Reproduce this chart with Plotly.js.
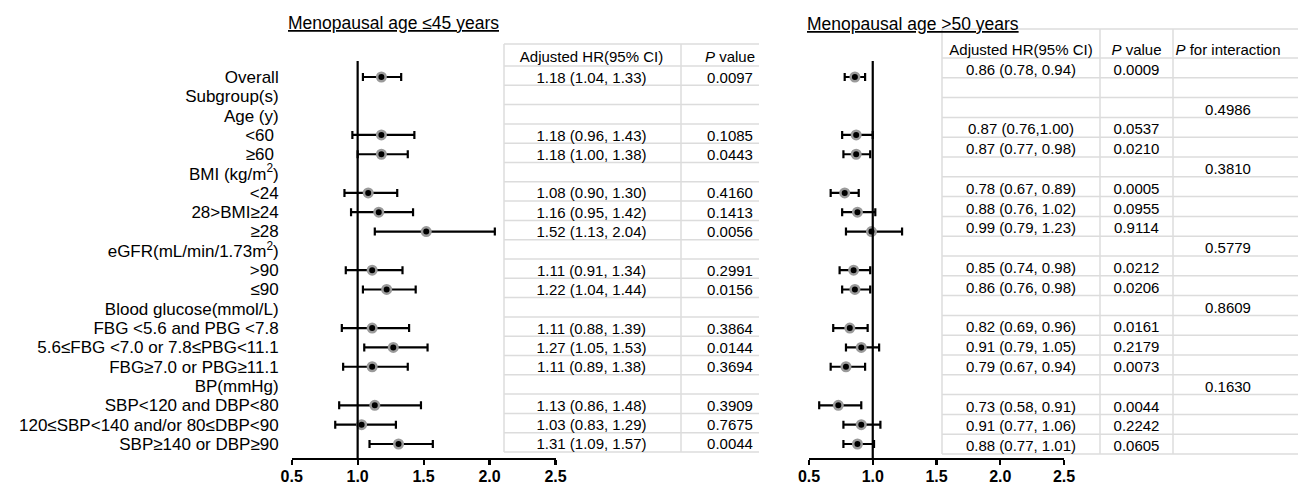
<!DOCTYPE html>
<html><head><meta charset="utf-8">
<script src="https://cdn.plot.ly/plotly-3.0.1.min.js"></script>
<style>html,body{margin:0;padding:0;background:#fff}#chart{width:1298px;height:485px}</style>
</head><body><div id="chart"></div>
<script>
// ---------------- DATA ----------------
const rowLabels = ['Overall','Subgroup(s)','Age (y)','<60\u00a0','≥60\u00a0','BMI (kg/m<sup>2</sup>)','<24','28>BMI≥24','≥28',
  'eGFR(mL/min/1.73m<sup>2</sup>)','>90','≤90','Blood glucose(mmol/L)','FBG <5.6 and PBG <7.8','5.6≤FBG <7.0 or 7.8≤PBG<11.1',
  'FBG≥7.0 or PBG≥11.1','BP(mmHg)','SBP<120 and DBP<80','120≤SBP<140 and/or 80≤DBP<90','SBP≥140 or DBP≥90'];

// Menopausal age <=45 years
const hrEarly = [1.18,null,null,1.18,1.18,null,1.08,1.16,1.52,null,1.11,1.22,null,1.11,1.27,1.11,null,1.13,1.03,1.31];
const loEarly = [1.04,null,null,0.96,1.00,null,0.90,0.95,1.13,null,0.91,1.04,null,0.88,1.05,0.89,null,0.86,0.83,1.09];
const hiEarly = [1.33,null,null,1.43,1.38,null,1.30,1.42,2.04,null,1.34,1.44,null,1.39,1.53,1.38,null,1.48,1.29,1.57];
const ciTextEarly = ['1.18 (1.04, 1.33)','','','1.18 (0.96, 1.43)','1.18 (1.00, 1.38)','','1.08 (0.90, 1.30)','1.16 (0.95, 1.42)',
  '1.52 (1.13, 2.04)','','1.11 (0.91, 1.34)','1.22 (1.04, 1.44)','','1.11 (0.88, 1.39)','1.27 (1.05, 1.53)','1.11 (0.89, 1.38)','',
  '1.13 (0.86, 1.48)','1.03 (0.83, 1.29)','1.31 (1.09, 1.57)'];
const pEarly = ['0.0097','','','0.1085','0.0443','','0.4160','0.1413','0.0056','','0.2991','0.0156','','0.3864','0.0144','0.3694','',
  '0.3909','0.7675','0.0044'];

// Menopausal age >50 years
const hrLate = [0.86,null,null,0.87,0.87,null,0.78,0.88,0.99,null,0.85,0.86,null,0.82,0.91,0.79,null,0.73,0.91,0.88];
const loLate = [0.78,null,null,0.76,0.77,null,0.67,0.76,0.79,null,0.74,0.76,null,0.69,0.79,0.67,null,0.58,0.77,0.77];
const hiLate = [0.94,null,null,1.00,0.98,null,0.89,1.02,1.23,null,0.98,0.98,null,0.96,1.05,0.94,null,0.91,1.06,1.01];
const ciTextLate = ['0.86 (0.78, 0.94)','','','0.87 (0.76,1.00)','0.87 (0.77, 0.98)','','0.78 (0.67, 0.89)','0.88 (0.76, 1.02)',
  '0.99 (0.79, 1.23)','','0.85 (0.74, 0.98)','0.86 (0.76, 0.98)','','0.82 (0.69, 0.96)','0.91 (0.79, 1.05)','0.79 (0.67, 0.94)','',
  '0.73 (0.58, 0.91)','0.91 (0.77, 1.06)','0.88 (0.77, 1.01)'];
const pLate = ['0.0009','','','0.0537','0.0210','','0.0005','0.0955','0.9114','','0.0212','0.0206','','0.0161','0.2179','0.0073','',
  '0.0044','0.2242','0.0605'];
const pInteraction = ['','','0.4986','','','0.3810','','','','0.5779','','','0.8609','','','','0.1630','','',''];

const headerEarly = ['Adjusted HR(95% CI)','<i>P</i> value'];
const headerLate = ['Adjusted HR(95% CI)','<i>P</i> value','<i>P</i> for interaction'];
const titleEarly = 'Menopausal age ≤45 years';
const titleLate = 'Menopausal age >50 years';
const xTicks = [0.5,1.0,1.5,2.0,2.5];

// ---------------- LAYOUT HELPERS ----------------
const W = 1298, H = 485;
const fx = p => p / W;
const fy = p => 1 - p / H;
const rows = rowLabels.map((_, i) => i);
const FONT = '"Liberation Sans", Arial, sans-serif';

function forest(hr, lo, hi, xa) {
  return {
    type: 'scatter', mode: 'markers', x: hr, y: rows, xaxis: xa, yaxis: 'y',
    error_x: {type: 'data', symmetric: false,
      array: hi.map((h, i) => h == null ? null : h - hr[i]),
      arrayminus: lo.map((l, i) => l == null ? null : hr[i] - l),
      color: '#000', thickness: 2.2, width: 4},
    marker: {size: 8.5, color: '#000', line: {color: '#9a9a9a', width: 2.5}},
    cliponaxis: false, hoverinfo: 'none', showlegend: false
  };
}
function textCol(texts, xpos, ya, xa, offset) {
  const idx = rows.filter(i => texts[i] !== '');
  return {type: 'scatter', mode: 'text', x: idx.map(() => xpos), y: idx.map(i => i + offset),
    text: idx.map(i => texts[i]), xaxis: xa, yaxis: ya, textposition: 'middle center', cliponaxis: false,
    textfont: {family: FONT, size: 15, color: '#000'}, hoverinfo: 'none', showlegend: false};
}
function headerTrace(texts, xs, yv, ya, xa) {
  return {type: 'scatter', mode: 'text', x: xs, y: texts.map(() => yv), text: texts, xaxis: xa, yaxis: ya,
    textposition: 'middle center', cliponaxis: false,
    textfont: {family: FONT, size: 15, color: '#000'}, hoverinfo: 'none', showlegend: false};
}

// table geometry (pixel-like units on the table x axes; row units on the table y axes)
const tabL = {left: 504, right: 759, dividers: [504, 681], centers: [591.5, 730], top: -1.64, header: -0.9};
const tabR = {left: 942, right: 1298, dividers: [942, 1100, 1173], centers: [1021, 1136.5, 1228], top: -1.965, header: -0.82};
const textOffset = 0.17;

const traces = [
  forest(hrEarly, loEarly, hiEarly, 'x'),
  forest(hrLate, loLate, hiLate, 'x3'),
  textCol(ciTextEarly, tabL.centers[0], 'y2', 'x2', textOffset),
  textCol(pEarly, tabL.centers[1], 'y2', 'x2', textOffset),
  headerTrace(headerEarly, tabL.centers, tabL.header, 'y2', 'x2'),
  textCol(ciTextLate, tabR.centers[0], 'y3', 'x4', textOffset),
  textCol(pLate, tabR.centers[1], 'y3', 'x4', textOffset),
  textCol(pInteraction, tabR.centers[2], 'y3', 'x4', textOffset),
  headerTrace(headerLate, tabR.centers, tabR.header, 'y3', 'x4')
];

const shapes = [];
const gridLine = {color: '#dcdcdc', width: 1.5};
function tableShapes(t, xa, ya) {
  const hs = [t.top];
  for (let i = -1; i < rows.length; i++) hs.push(i + 0.5);
  hs.forEach(v => shapes.push({type: 'line', xref: xa, yref: ya, x0: t.left, x1: t.right, y0: v, y1: v, line: gridLine, layer: 'below'}));
  t.dividers.forEach(d => shapes.push({type: 'line', xref: xa, yref: ya, x0: d, x1: d, y0: t.top, y1: rows.length - 0.5, line: gridLine, layer: 'below'}));
}
tableShapes(tabL, 'x2', 'y2');
tableShapes(tabR, 'x4', 'y3');
['x', 'x3'].forEach(xa => shapes.push({type: 'line', xref: xa, yref: 'y domain', x0: 1, x1: 1, y0: 0, y1: 1, line: {color: '#000', width: 2.2}}));

const forestX = dom => ({
  domain: dom, range: [0.5, 2.5], anchor: 'y', showgrid: false, zeroline: false,
  showline: true, linecolor: '#000', linewidth: 2.2,
  ticks: 'outside', ticklen: 5, tickwidth: 2.2, tickcolor: '#000',
  tickvals: xTicks, tickformat: '.1f', ticklabelstandoff: -2,
  tickfont: {family: FONT, size: 16, color: '#000', weight: 'bold'}
});
const hidden = (extra) => Object.assign({showgrid: false, zeroline: false, showline: false, showticklabels: false, ticks: ''}, extra);

const layout = {
  width: W, height: H, margin: {l: 0, r: 0, t: 0, b: 0},
  paper_bgcolor: '#fff', plot_bgcolor: 'rgba(0,0,0,0)',
  showlegend: false, font: {family: FONT, color: '#000'},
  xaxis: forestX([fx(291.7), fx(555.5)]),
  xaxis3: forestX([fx(809), fx(1064)]),
  yaxis: {domain: [fy(458), fy(61)], range: [(458 - 77) / 19.316, (61 - 77) / 19.316], anchor: 'x',
    showgrid: false, zeroline: false, showline: false, ticks: '',
    tickvals: rows, ticktext: rowLabels, ticklabelstandoff: 12,
    tickfont: {family: FONT, size: 17, color: '#000'}},
  xaxis2: hidden({domain: [fx(500), fx(762)], range: [500, 762], anchor: 'y2'}),
  yaxis2: hidden({domain: [fy(455), fy(41)], range: [(455 - 75.65) / 19.3, (41 - 75.65) / 19.3], anchor: 'x2'}),
  xaxis4: hidden({domain: [fx(938), 1], range: [938, 1298], anchor: 'y3'}),
  yaxis3: hidden({domain: [fy(457), fy(26)], range: [(457 - 67.9) / 19.8, (26 - 67.9) / 19.8], anchor: 'x4'}),
  shapes: shapes,
  annotations: [
    {text: '<u>' + titleEarly + '</u>', xref: 'paper', yref: 'paper', x: fx(393.5), y: fy(23), xanchor: 'center', yanchor: 'middle',
      showarrow: false, font: {family: FONT, size: 17.5, color: '#000'}},
    {text: '<u>' + titleLate + '</u>', xref: 'paper', yref: 'paper', x: fx(913), y: fy(24), xanchor: 'center', yanchor: 'middle',
      showarrow: false, font: {family: FONT, size: 17.5, color: '#000'}}
  ]
};

Plotly.newPlot('chart', traces, layout, {staticPlot: true, displayModeBar: false});
</script>
</body></html>
